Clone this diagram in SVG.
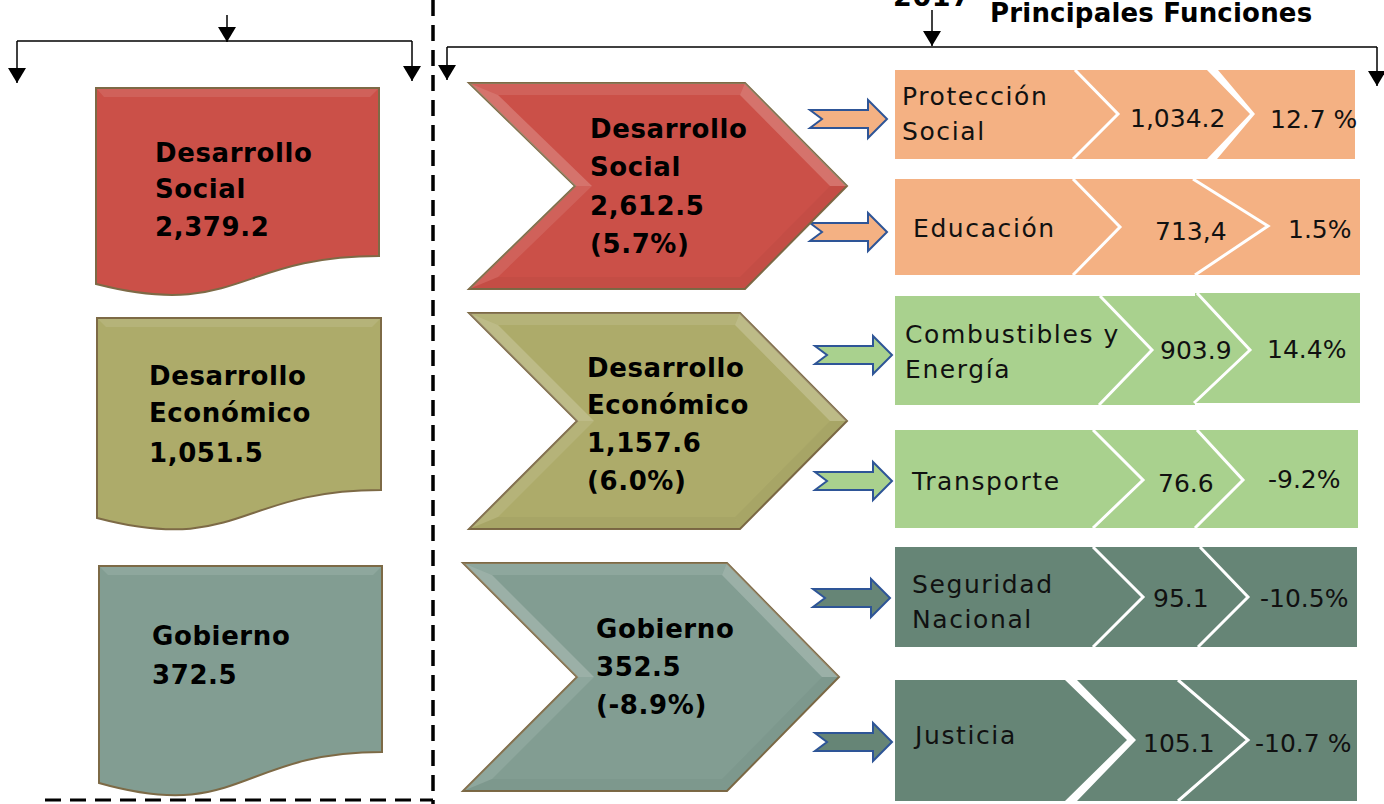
<svg xmlns="http://www.w3.org/2000/svg" width="1384" height="804" viewBox="0 0 1384 804">
<style>
.tb{font-family:"DejaVu Sans","Liberation Sans",sans-serif;font-weight:bold;font-size:26px;letter-spacing:0.6px;fill:#000}
.tr{font-family:"DejaVu Sans",sans-serif;font-size:25px;letter-spacing:1.6px;fill:#111}
.tn{font-family:"DejaVu Sans",sans-serif;font-size:25px;fill:#111}
.ln{stroke:#000;stroke-width:1.5;fill:none}
.dash{stroke:#000;stroke-width:3.5;fill:none;stroke-dasharray:16 9}
.out{stroke:#7D6A46;stroke-width:2}
.sep{stroke:#fff;stroke-width:3;fill:none}
.hl{fill:#fff;fill-opacity:.2}
.hl2{fill:#fff;fill-opacity:.1}
.dk{fill:#000;fill-opacity:.03}
.barr{stroke:#2E5597;stroke-width:2}
.red{fill:#CB5048}.olv{fill:#ADAB6A}.gry{fill:#829D92}
.or{fill:#F4B183}.gr{fill:#A9D18E}.dg{fill:#668576}
</style>
<defs>
<marker id="ah" markerUnits="userSpaceOnUse" markerWidth="16" markerHeight="18" refX="15" refY="9" orient="auto">
<path d="M0,0 L15,9 L0,18 Z" fill="#000"/>
</marker>
<path id="barrow" d="M0,-9 L58,-9 L58,-19 L77,0 L58,19 L58,9 L0,9 L12,0 Z"/>
</defs>

<g id="headers">
<text class="tb" x="893" y="6" style="font-size:27px">2017</text>
<text class="tb" x="990" y="22" style="font-size:26px;letter-spacing:0.2px">Principales Funciones</text>
</g>

<g id="connectors">
<line class="ln" x1="17" y1="41" x2="412" y2="41"/>
<line class="ln" x1="227" y1="15" x2="227" y2="42" marker-end="url(#ah)"/>
<line class="ln" x1="17" y1="41" x2="17" y2="83" marker-end="url(#ah)"/>
<line class="ln" x1="412" y1="41" x2="412" y2="81" marker-end="url(#ah)"/>
<line class="ln" x1="447" y1="47" x2="1377" y2="47"/>
<line class="ln" x1="932" y1="10" x2="932" y2="46" marker-end="url(#ah)"/>
<line class="ln" x1="447" y1="47" x2="447" y2="80" marker-end="url(#ah)"/>
<line class="ln" x1="1377" y1="47" x2="1377" y2="86" marker-end="url(#ah)"/>
<line class="dash" x1="433" y1="0" x2="433" y2="804"/>
<line class="dash" x1="45" y1="800" x2="433" y2="800" style="stroke-width:3"/>
<use href="#barrow" class="barr or" x="810" y="119"/>
<use href="#barrow" class="barr or" x="810" y="232"/>
<use href="#barrow" class="barr gr" x="815" y="355"/>
<use href="#barrow" class="barr gr" x="815" y="481"/>
<use href="#barrow" class="barr dg" x="813" y="598"/>
<use href="#barrow" class="barr dg" x="815" y="742"/>
</g>

<g id="doc-social">
<path class="red out" d="M96,88 H379 V256 C237,256 237,320 96,284 Z"/>
<path class="hl2" d="M97,89 H378 L370,97 H104 Z"/>
<text class="tb" x="155" y="162">Desarrollo</text>
<text class="tb" x="155" y="198">Social</text>
<text class="tb" x="155" y="236">2,379.2</text>
</g>
<g id="doc-economico">
<path class="olv out" d="M97,318 H381 V490 C239,490 239,555 97,518 Z"/>
<path class="hl2" d="M98,319 H380 L372,327 H106 Z"/>
<text class="tb" x="149" y="385">Desarrollo</text>
<text class="tb" x="149" y="422">Económico</text>
<text class="tb" x="149" y="462">1,051.5</text>
</g>
<g id="doc-gobierno">
<path class="gry out" d="M99,566 H382 V752 C240,752 240,823 99,783 Z"/>
<path class="hl2" d="M100,567 H381 L373,575 H108 Z"/>
<text class="tb" x="152" y="645">Gobierno</text>
<text class="tb" x="152" y="684">372.5</text>
</g>

<g id="chev-social">
<polygon class="red out" points="469,83 745,83 847,186 745,289 469,289 575,186"/>
<polygon class="hl2" points="469,83 745,83 740,95 498,95"/>
<polygon class="hl" points="745,83 847,186 830,186 740,95"/>
<polygon class="hl" points="575,186 469,83 498,95 592,186"/>
<polygon class="dk" points="847,186 745,289 740,277 830,186"/>
<polygon class="dk" points="745,289 469,289 498,277 740,277"/>
<polygon class="hl2" points="469,289 575,186 592,186 498,277"/>
<text class="tb" x="590" y="138">Desarrollo</text>
<text class="tb" x="590" y="176">Social</text>
<text class="tb" x="590" y="215">2,612.5</text>
<text class="tb" x="590" y="253">(5.7%)</text>
</g>
<g id="chev-economico">
<polygon class="olv out" points="469,313 740,313 847,421 740,529 469,529 577,421"/>
<polygon class="hl2" points="469,313 740,313 735,325 498,325"/>
<polygon class="hl" points="740,313 847,421 830,421 735,325"/>
<polygon class="hl" points="577,421 469,313 498,325 594,421"/>
<polygon class="dk" points="847,421 740,529 735,517 830,421"/>
<polygon class="dk" points="740,529 469,529 498,517 735,517"/>
<polygon class="hl2" points="469,529 577,421 594,421 498,517"/>
<text class="tb" x="587" y="377">Desarrollo</text>
<text class="tb" x="587" y="414">Económico</text>
<text class="tb" x="587" y="452">1,157.6</text>
<text class="tb" x="587" y="490">(6.0%)</text>
</g>
<g id="chev-gobierno">
<polygon class="gry out" points="463,563 727,563 839,677 727,791 463,791 577,677"/>
<polygon class="hl2" points="463,563 727,563 722,575 492,575"/>
<polygon class="hl" points="727,563 839,677 822,677 722,575"/>
<polygon class="hl" points="577,677 463,563 492,575 594,677"/>
<polygon class="dk" points="839,677 727,791 722,779 822,677"/>
<polygon class="dk" points="727,791 463,791 492,779 722,779"/>
<polygon class="hl2" points="463,791 577,677 594,677 492,779"/>
<text class="tb" x="596" y="638">Gobierno</text>
<text class="tb" x="596" y="676">352.5</text>
<text class="tb" x="596" y="714">(-8.9%)</text>
</g>

<g id="row-proteccion">
<rect class="or" x="895" y="70" width="460" height="89"/>
<polyline class="sep" points="1075,70 1118,114 1073,159"/>
<polygon fill="#fff" points="1207,70 1218,70 1255,114 1217,159 1207,159 1250,114"/>
<text class="tr" x="902" y="105">Protección</text>
<text class="tr" x="902" y="140">Social</text>
<text class="tn" x="1130" y="127">1,034.2</text>
<text class="tn" x="1270" y="128">12.7 %</text>
</g>
<g id="row-educacion">
<rect class="or" x="895" y="179" width="465" height="96"/>
<polyline class="sep" points="1073,179 1120,227 1073,275"/>
<polyline class="sep" points="1193,179 1268,226 1195,275"/>
<text class="tr" x="913" y="237">Educación</text>
<text class="tn" x="1155" y="240">713,4</text>
<text class="tn" x="1288" y="238">1.5%</text>
</g>
<g id="row-combustibles">
<rect class="gr" x="895" y="296" width="300" height="109"/>
<rect class="gr" x="1195" y="293" width="165" height="110"/>
<polyline class="sep" points="1100,296 1152,350 1099,405"/>
<polyline class="sep" points="1197,293 1250,350 1194,403"/>
<text class="tr" x="905" y="343">Combustibles y</text>
<text class="tr" x="905" y="378">Energía</text>
<text class="tn" x="1160" y="359">903.9</text>
<text class="tn" x="1267" y="358">14.4%</text>
</g>
<g id="row-transporte">
<rect class="gr" x="895" y="430" width="463" height="98"/>
<polyline class="sep" points="1093,430 1143,480 1093,528"/>
<polyline class="sep" points="1197,430 1243,480 1195,528"/>
<text class="tr" x="912" y="490">Transporte</text>
<text class="tn" x="1158" y="492">76.6</text>
<text class="tn" x="1268" y="488">-9.2%</text>
</g>
<g id="row-seguridad">
<rect class="dg" x="895" y="547" width="462" height="100"/>
<polyline class="sep" points="1093,547 1143,597 1093,647"/>
<polyline class="sep" points="1200,547 1248,597 1198,647"/>
<text class="tr" x="912" y="593">Seguridad</text>
<text class="tr" x="912" y="628">Nacional</text>
<text class="tn" x="1153" y="607">95.1</text>
<text class="tn" x="1260" y="607">-10.5%</text>
</g>
<g id="row-justicia">
<rect class="dg" x="895" y="680" width="462" height="121"/>
<polygon fill="#fff" points="1065,680 1077,680 1136,740 1077,801 1065,801 1127,740"/>
<polyline class="sep" points="1178,680 1248,740 1178,801"/>
<text class="tr" x="915" y="744">Justicia</text>
<text class="tn" x="1143" y="752">105.1</text>
<text class="tn" x="1255" y="752">-10.7 %</text>
</g>
</svg>
